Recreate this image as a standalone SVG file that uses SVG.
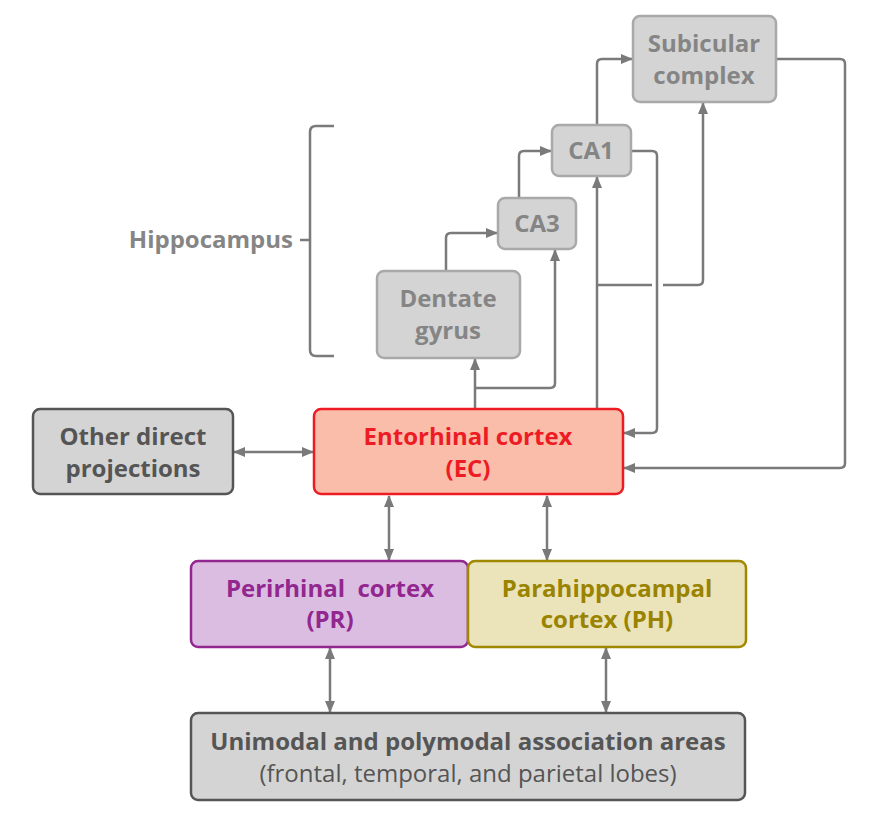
<svg xmlns="http://www.w3.org/2000/svg" width="878" height="822" viewBox="0 0 878 822">
<defs>
<marker id="ah" viewBox="0 0 12 10" refX="11" refY="5" markerWidth="12" markerHeight="10" markerUnits="userSpaceOnUse" orient="auto-start-reverse">
<path d="M0,0 L12,5 L0,10 Z" fill="#7a7a7a"/>
</marker>
</defs>
<style>
text{font-family:"Open Sans","Liberation Sans",sans-serif;font-weight:700;font-size:24px;text-anchor:middle}
.hip rect{fill:#d4d4d4;stroke:#a9a9a9;stroke-width:2.5}
.hip text{fill:#858585}
.dk rect{fill:#d4d4d4;stroke:#555;stroke-width:2.5}
.dk text{fill:#555}
.c{fill:none;stroke:#7a7a7a;stroke-width:2.5;stroke-linejoin:round}
.a{marker-end:url(#ah)}
.b{marker-start:url(#ah);marker-end:url(#ah)}
</style>
<g id="connectors">
<path class="c a" d="M446,271 V238 Q446,233 451,233 H497"/>
<path class="c a" d="M519,198 V156 Q519,151 524,151 H551"/>
<path class="c a" d="M597,125 V64 Q597,59 602,59 H632"/>
<path class="c a" d="M776,59 H840 Q845,59 845,64 V463 Q845,468 840,468 H624"/>
<path class="c a" d="M631,151 H652 Q657,151 657,156 V428 Q657,433 652,433 H624"/>
<path class="c a" d="M475,409 V359"/>
<path class="c a" d="M475,388 H550 Q555,388 555,383 V250"/>
<path class="c a" d="M597,409 V177"/>
<path class="c" d="M597,285 H652"/>
<path class="c a" d="M663,285 H698 Q703,285 703,280 V103"/>
<path class="c b" d="M234,452 H313"/>
<path class="c b" d="M389,496 V560"/>
<path class="c b" d="M547,496 V560"/>
<path class="c b" d="M330,648 V712"/>
<path class="c b" d="M606,648 V712"/>
</g>
<g id="hippocampus-label">
<text x="293" y="248" fill="#858585" style="text-anchor:end">Hippocampus</text>
<path class="c" d="M300,240 H310 M334,126 H316 Q310,126 310,132 V350 Q310,356 316,356 H334"/>
</g>
<g id="subicular" class="hip">
<rect x="633" y="16" width="143" height="86" rx="7"/>
<text x="704" y="52">Subicular</text>
<text x="704" y="84">complex</text>
</g>
<g id="ca1" class="hip">
<rect x="552" y="125" width="79" height="51" rx="7"/>
<text x="591" y="159">CA1</text>
</g>
<g id="ca3" class="hip">
<rect x="498" y="198" width="78" height="51" rx="7"/>
<text x="537" y="232">CA3</text>
</g>
<g id="dentate" class="hip">
<rect x="377" y="271" width="143" height="87" rx="7"/>
<text x="448" y="307">Dentate</text>
<text x="448" y="339">gyrus</text>
</g>
<g id="other" class="dk">
<rect x="33" y="409" width="200" height="85" rx="7"/>
<text x="133" y="445">Other direct</text>
<text x="133" y="477">projections</text>
</g>
<g id="ec">
<rect x="314" y="409" width="309" height="85" rx="7" fill="#f9bdaa" stroke="#ed1c24" stroke-width="2.5"/>
<text x="468" y="445" fill="#ed1c24">Entorhinal cortex</text>
<text x="468" y="477" fill="#ed1c24">(EC)</text>
</g>
<g id="pr">
<rect x="191" y="561" width="277" height="86" rx="7" fill="#dcbde2" stroke="#92278f" stroke-width="2.5"/>
<text x="330" y="597" fill="#92278f" style="white-space:pre">Perirhinal  cortex</text>
<text x="330" y="628" fill="#92278f">(PR)</text>
</g>
<g id="ph">
<rect x="468" y="561" width="278" height="86" rx="7" fill="#ebe3b9" stroke="#a08800" stroke-width="2.5"/>
<text x="607" y="597" fill="#9a8300">Parahippocampal</text>
<text x="607" y="628" fill="#9a8300">cortex (PH)</text>
</g>
<g id="association" class="dk">
<rect x="191" y="713" width="554" height="87" rx="7"/>
<text x="468" y="750">Unimodal and polymodal association areas</text>
<text x="468" y="782" style="font-weight:400">(frontal, temporal, and parietal lobes)</text>
</g>
</svg>
